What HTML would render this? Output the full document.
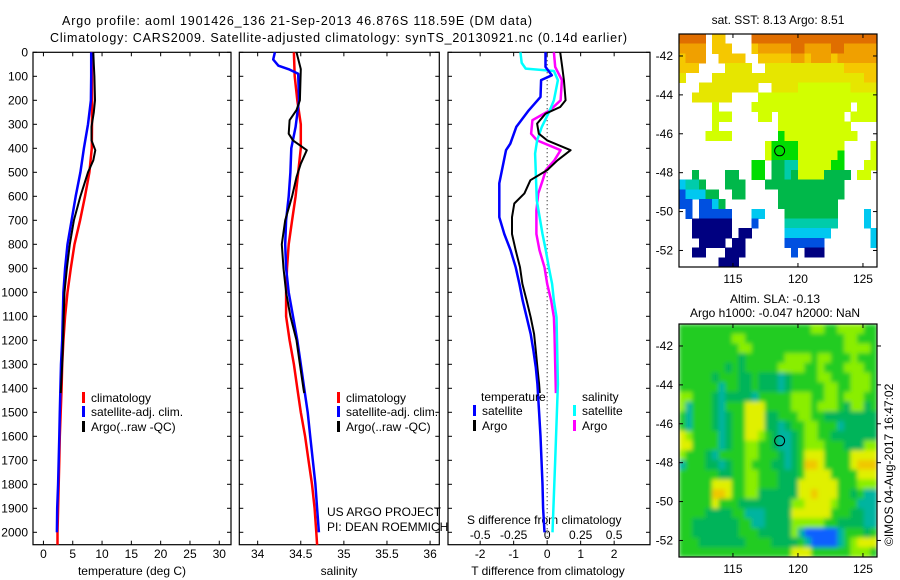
<!DOCTYPE html>
<html><head><meta charset="utf-8"><style>
html,body{margin:0;padding:0;background:#fff}
svg{display:block;font-family:"Liberation Sans",sans-serif;}
text{font-size:12px;fill:#000}
</style></head><body>
<svg id="fig" width="900" height="580" xmlns="http://www.w3.org/2000/svg">
<defs>
<filter id="blur" x="-5%" y="-5%" width="110%" height="110%"><feGaussianBlur stdDeviation="2.2"/></filter>
<clipPath id="slaclip"><rect x="679" y="324" width="198" height="233"/></clipPath>
</defs>
<rect width="900" height="580" fill="#fff"/>
<text x="62" y="25" textLength="470" style="font-size:12.5px">Argo profile: aoml 1901426_136 21-Sep-2013 46.876S 118.59E (DM data)</text>
<text x="50" y="42" textLength="577" style="font-size:12.5px">Climatology: CARS2009. Satellite-adjusted climatology: synTS_20130921.nc (0.14d earlier)</text>
</svg>
<script>
// ---- profile data ----
const tClimDepth=[0,100,200,300,400,500,600,700,800,900,1000,1100,1200,1300,1400,1500,1600,1700,1800,1900,2000,2052];
const tClim=[8.25,8.28,8.3,8.28,8.26,7.85,7.1,6.26,5.3,4.67,4.1,3.7,3.4,3.2,3.1,2.95,2.8,2.7,2.6,2.5,2.4,2.4];
const tSatDepth=[0,100,200,300,400,500,600,700,800,900,1000,1100,1200,1300,1400,1500,1600,1700,1800,1900,2000];
const tSat=[8.15,8.15,8.1,7.6,6.9,6.3,5.5,4.8,4.1,3.7,3.4,3.3,3.2,3.0,2.9,2.8,2.7,2.6,2.5,2.35,2.3];
const tArgoDepth=[0,50,100,200,250,311,367,408,450,500,600,700,800,900,1000,1100,1200,1300,1400,1420];
const tArgo=[8.5,8.6,8.7,8.8,8.6,8.2,8.2,8.85,8.5,7.6,6.3,5.2,4.5,4.0,3.6,3.45,3.35,3.2,3.0,2.97];
const sClimDepth=[0,100,200,300,400,500,600,700,800,900,1000,1100,1200,1300,1400,1500,1600,1700,1800,1900,2000,2052];
const sClim=[34.42,34.43,34.46,34.5,34.5,34.47,34.44,34.40,34.36,34.34,34.33,34.33,34.37,34.42,34.46,34.5,34.55,34.59,34.63,34.66,34.68,34.69];
const sSatDepth=[0,30,56,72,89,200,311,400,500,600,700,800,900,1000,1100,1200,1300,1400,1500,1600,1700,1800,1900,2000];
const sSat=[34.2,34.18,34.24,34.37,34.47,34.48,34.44,34.39,34.38,34.36,34.33,34.32,34.33,34.36,34.41,34.46,34.5,34.54,34.58,34.61,34.64,34.67,34.69,34.71];
const sArgoDepth=[0,70,200,241,283,339,367,408,464,520,600,700,800,900,1000,1100,1200,1300,1400,1420];
const sArgo=[34.45,34.5,34.49,34.45,34.37,34.36,34.41,34.57,34.5,34.45,34.4,34.32,34.28,34.3,34.33,34.38,34.45,34.49,34.53,34.54];
const dTSatDepth=[0,61,96,116,186,242,311,381,408,546,687,757,825,896,965,1035,1104,1174,1243,1313,1382,1500,1600,1700,1800,1900,2000];
const dTSat=[-0.05,-0.05,0.14,-0.18,-0.2,-0.55,-0.92,-1.1,-1.23,-1.43,-1.43,-1.28,-1.09,-0.94,-0.83,-0.73,-0.61,-0.49,-0.41,-0.34,-0.29,-0.24,-0.2,-0.17,-0.14,-0.12,-0.08];
const dTArgoDepth=[0,61,116,200,228,256,297,339,367,408,450,491,533,588,630,687,757,825,896,965,1035,1104,1174,1243,1313,1382,1420];
const dTArgo=[0.39,0.45,0.5,0.55,0.39,-0.05,-0.3,-0.25,0,0.7,0.31,0,-0.5,-0.68,-0.98,-1.05,-1.05,-0.94,-0.81,-0.74,-0.61,-0.49,-0.39,-0.34,-0.29,-0.24,-0.22];
const dSSatDepth=[0,44,68,78,116,200,242,311,367,422,617,757,825,896,965,1035,1104,1382,1700,2000];
const dSSat=[-0.2,-0.19,-0.16,0.05,0.08,0.05,0.02,-0.04,-0.075,-0.09,-0.077,-0.035,-0.01,0.012,0.037,0.05,0.07,0.08,0.06,0.04];
const dSArgoDepth=[0,61,116,200,242,283,339,367,408,450,491,533,588,659,757,825,896,965,1035,1104,1174,1300,1420];
const dSArgo=[0.05,0.06,0.11,0.1,0.02,-0.11,-0.12,-0.075,0.1,0.054,-0.01,-0.033,-0.066,-0.08,-0.08,-0.057,-0.02,0,0.03,0.05,0.055,0.06,0.065];
const depthTicks=[0,100,200,300,400,500,600,700,800,900,1000,1100,1200,1300,1400,1500,1600,1700,1800,1900,2000];
const tTicks=[0,5,10,15,20,25,30];
const sTicks=[34,34.5,35,35.5,36];
const sTickLabels=['34','34.5','35','35.5','36'];
const dTTicks=[-2,-1,0,1,2];
const dSTicks=[-0.5,-0.25,0,0.25,0.5];
const dSTickLabels=['-0.5','-0.25','0','0.25','0.5'];
// ---- map data ----
const sstRows=[
"OOOO.yy....OOOOOOOOOOOOOOOOOOO",
"oooo.yyy...yoooooOOooooOOooooo",
"yooo..yyyy..yyyyyooyoooyoooooo",
"yyy....YYYY..YYYYYYYYYYYYyyyyy",
"Y....YYYYYYYYYYYYYYYYYYYYYYYyy",
"...YYYYYYYYY..YYYYLLLLLLLLYYYY",
"..YYYYYY....LLLLLLLLLLLLLLLLLL",
".....L.....LLLLLLLLLLLLLLL.LLL",
".....LLL....LL.LLLLLLLLLL.LLLL",
".....L.........LLLLLLLLLLL....",
"....LLLL.......gLLLLLLLLLLL...",
".............LggggLLLLLLL....L",
".............LggggLLLLLLg....L",
"...........gg.GGccLLLLLgg...LL",
"..G....GG..gg.GGcGLLLLGGGG.LL.",
"CccG...GGG...GGGGGGGGGGGG.....",
"bCCCGG..GG.....GGGGGGGGGG.....",
"bb.bbCG........GGGGGGGGG......",
".b.bbbbb...CC...GGGGGGGG....C.",
"..nnnnnn...b....cccccccc....C.",
"..nnnnnn.nn.....CCCCCCC......C",
"...nnnn.nn......bbbbbb.......C",
"..nn...nnn.......b.nnn........",
"......nnn....................."];
const sstColors={O:'#e06e00',o:'#f0a000',y:'#f5c800',Y:'#e6e600',L:'#d2ff00',g:'#00dd00',G:'#00b84a',c:'#00ccaa',C:'#00c8f0',b:'#0050e0',n:'#000080'};
const slaRows=[
"ggggggggggggggggggggllggllllgg",
"ggggggggllgggggggggggggggllggg",
"gggggggggllggggggggggggggllllg",
"gggggggggGggggggllllgllggglggg",
"gggggggGgGgggggllllgglggglllgg",
"gggggGgggGGgGGGtGggggllggglllg",
"ggggggtggGGgGGGtGgggggllgglllg",
"llgggGtGGGGtggggglllggllglllgg",
"ltgggGtgggyyygggglllglllgGllGg",
"gtgggGtGggyyyGGgggllggGGGGGGGG",
"gtgggGtGggyyyGGtGggllgggtGGGGG",
"ylggggtGggyylgGttGgllggGGGGGGG",
"yyggggtGggllggGttGglllgggGGGll",
"lgggGtggggllgggGtGgyyyggggyyyy",
"tgggGGtGgglgggGGtGgooyggggyooo",
"ggggggGGggllgggGGGgyyyyggggyyy",
"gggggyyyggllgggGGGyyyyyyggglll",
"gggggooyggllGGGGGGyyoyyyggGgtt",
"gggggygggGGGGGGGGllyyyylgggttt",
"ggggGGGGggtttGGGGyyyyyygggGGtt",
"ggGGGGGGGggttGGGGlllllggGGGGtt",
"ggGGGGGGGgggGGGGGltbbbbbtgggGg",
"gggGGGGGGGggggGGGGgtbbbbtglyyy",
"gggggggggggggggggyyygggggglllg"];
const slaColors={g:'#22cc22',G:'#00b45a',t:'#00b4a0',l:'#8aee00',y:'#e0f000',o:'#f0c800',b:'#1060ff'};
const latTicks=[-42,-44,-46,-48,-50,-52];
const lonTicks=[115,120,125];
const argoLon=118.59, argoLat=-46.876;

const NS='http://www.w3.org/2000/svg';
const svg=document.getElementById('fig');
function el(tag,attrs,parent,txt){const e=document.createElementNS(NS,tag);for(const k in attrs)e.setAttribute(k,attrs[k]);if(txt!==undefined)e.textContent=txt;(parent||svg).appendChild(e);return e;}

const Y0=52.3, PY=0.24, YB=544.7;
const yD=d=>Y0+d*PY;
const panels=[
 {name:'temperature-panel',x0:33,x1:231,v0:-1.78,v1:32.0},
 {name:'salinity-panel',x0:239.3,x1:439.3,v0:33.787,v1:36.107},
 {name:'difference-panel',x0:448,x1:650,v0:-2.96,v1:3.07}];
panels.forEach(p=>{p.sx=v=>p.x0+(v-p.v0)/(p.v1-p.v0)*(p.x1-p.x0);});
const xT=panels[0].sx, xS=panels[1].sx, xDT=panels[2].sx;
const xDS=v=>xDT(v*4);

function line(name,depths,vals,sx,color,w){
  const pts=depths.map((d,i)=>sx(vals[i]).toFixed(1)+','+yD(d).toFixed(1)).join(' ');
  const e=el('polyline',{points:pts,fill:'none',stroke:color,'stroke-width':w,'stroke-linejoin':'round'});
  
  
}
function xticks(p,ticks,labels,ly){
  ticks.forEach((t,i)=>{const x=p.sx(t);
    el('line',{x1:x,x2:x,y1:YB,y2:YB-4,stroke:'#000'});
    el('line',{x1:x,x2:x,y1:Y0,y2:Y0+4,stroke:'#000'});
    const tx=el('text',{x:x,y:ly,'text-anchor':'middle'},svg,labels[i]);
    
    
  });
}
panels.forEach(p=>{
  const r=el('rect',{x:p.x0,y:Y0,width:p.x1-p.x0,height:YB-Y0,fill:'none',stroke:'#000','stroke-width':1.2});
  
  
  depthTicks.forEach(d=>{const y=yD(d);
    el('line',{x1:p.x0,x2:p.x0+4,y1:y,y2:y,stroke:'#000'});
    el('line',{x1:p.x1,x2:p.x1-4,y1:y,y2:y,stroke:'#000'});});
});
depthTicks.forEach(d=>{const t=el('text',{x:28,y:yD(d)+4,'text-anchor':'end'},svg,String(d));
  
  });
xticks(panels[0],tTicks,tTicks.map(String),558);
xticks(panels[1],sTicks,sTickLabels,558);
xticks(panels[2],dTTicks,dTTicks.map(String),558);
dSTicks.forEach((t,i)=>{const tx=el('text',{x:xDS(t),y:539,'text-anchor':'middle'},svg,dSTickLabels[i]);
  
  });
[['temperature (deg C)',132,'x-axis-title-temperature'],['salinity',339,'x-axis-title-salinity'],['T difference from climatology',548,'x-axis-title-t-difference']].forEach(a=>{
  const t=el('text',{x:a[1],y:575,'text-anchor':'middle'},svg,a[0]);
  
  });
const sdt=el('text',{x:467,y:524},svg,'S difference from climatology');



const zl=el('line',{x1:xDT(0),x2:xDT(0),y1:Y0,y2:YB,stroke:'#000','stroke-dasharray':'1,3'});



line('temp-climatology',tClimDepth,tClim,xT,'#ff0000',2.5);
line('temp-satellite',tSatDepth,tSat,xT,'#0000ff',2.5);
line('temp-argo',tArgoDepth,tArgo,xT,'#000',2);
line('sal-climatology',sClimDepth,sClim,xS,'#ff0000',2.5);
line('sal-satellite',sSatDepth,sSat,xS,'#0000ff',2.5);
line('sal-argo',sArgoDepth,sArgo,xS,'#000',2);
line('sdiff-argo',dSArgoDepth,dSArgo,xDS,'#ff00ff',2.5);
line('sdiff-satellite',dSSatDepth,dSSat,xDS,'#00ffff',2.5);
line('tdiff-argo',dTArgoDepth,dTArgo,xDT,'#000',2);
line('tdiff-satellite',dTSatDepth,dTSat,xDT,'#0000ff',2.5);

function legend(x,y,color,label,name){
  const m=el('rect',{x:x,y:y-10,width:3,height:11,fill:color});
  
  
  const t=el('text',{x:x+9,y:y},svg,label);
  
  
}
legend(82,402,'#ff0000','climatology','legend-temp-climatology');
legend(82,416,'#0000ff','satellite-adj. clim.','legend-temp-satellite');
legend(82,431,'#000','Argo(..raw -QC)','legend-temp-argo');
legend(337,402,'#ff0000','climatology','legend-sal-climatology');
legend(337,416,'#0000ff','satellite-adj. clim.','legend-sal-satellite');
legend(337,431,'#000','Argo(..raw -QC)','legend-sal-argo');
const lt=el('text',{x:481,y:401},svg,'temperature');
const ls=el('text',{x:582,y:401},svg,'salinity');
legend(473,415,'#0000ff','satellite','legend-tdiff-satellite');
legend(473,430,'#000','Argo','legend-tdiff-argo');
legend(573,415,'#00ffff','satellite','legend-sdiff-satellite');
legend(573,430,'#ff00ff','Argo','legend-sdiff-argo');
const us1=el('text',{x:327,y:516},svg,'US ARGO PROJECT');
const us2=el('text',{x:327,y:531},svg,'PI: DEAN ROEMMICH');

// ---- maps ----
const MX0=679,MX1=877,LON0=110.85,LON1=126.08,LAT0=-40.87,LAT1=-52.85;
function drawMap(name,top,rows,colors,rightTicks,smooth){
  const H=233,W=MX1-MX0;
  const lx=lon=>MX0+(lon-LON0)/(LON1-LON0)*W;
  const ly=lat=>top+(LAT0-lat)/(LAT0-LAT1)*H;
  let host=svg;
  if(smooth){host=el('g',{'clip-path':'url(#slaclip)'});}
  const g=el('g',smooth?{filter:'url(#blur)'}:{'shape-rendering':'crispEdges'},host);
  
  
  const nr=rows.length,nc=rows[0].length,cw=W/nc,ch=H/nr;
  rows.forEach((r,i)=>{for(let j=0;j<nc;j++){const c=r[j];if(colors[c]){
    el('rect',{x:(MX0+j*cw).toFixed(2),y:(top+i*ch).toFixed(2),width:(cw+0.4).toFixed(2),height:(ch+0.4).toFixed(2),fill:colors[c]},g);}}});
  const b=el('rect',{x:MX0,y:top,width:W,height:H,fill:'none',stroke:'#000','stroke-width':1.2});
  
  
  latTicks.forEach(l=>{const y=ly(l);
    el('line',{x1:MX0,x2:MX0+4,y1:y,y2:y,stroke:'#000'});
    if(rightTicks) el('line',{x1:MX1,x2:MX1+4,y1:y,y2:y,stroke:'#000'});
    else el('line',{x1:MX1,x2:MX1-4,y1:y,y2:y,stroke:'#000'});
    const t=el('text',{x:673,y:y+4,'text-anchor':'end'},svg,String(l));
    
    });
  lonTicks.forEach(l=>{const x=lx(l);
    el('line',{x1:x,x2:x,y1:top+H,y2:top+H-4,stroke:'#000'});
    el('line',{x1:x,x2:x,y1:top,y2:top+4,stroke:'#000'});
    const t=el('text',{x:x,y:top+H+16,'text-anchor':'middle'},svg,String(l));
    
    });
  const c=el('circle',{cx:lx(argoLon),cy:ly(argoLat),r:5,fill:'none',stroke:'#000','stroke-width':1});
  
  
}
drawMap('sst-map',34,sstRows,sstColors,false,false);
drawMap('sla-map',324,slaRows,slaColors,true,true);
const mt1=el('text',{x:778,y:24,'text-anchor':'middle'},svg,'sat. SST: 8.13 Argo: 8.51');
const mt2=el('text',{x:775,y:303,'text-anchor':'middle'},svg,'Altim. SLA: -0.13');
const mt3=el('text',{x:775,y:317,'text-anchor':'middle'},svg,'Argo h1000: -0.047 h2000: NaN');
const cp=el('text',{x:0,y:0,transform:'translate(893,546) rotate(-90)'},svg,'©IMOS 04-Aug-2017 16:47:02');
</script>
</body></html>
